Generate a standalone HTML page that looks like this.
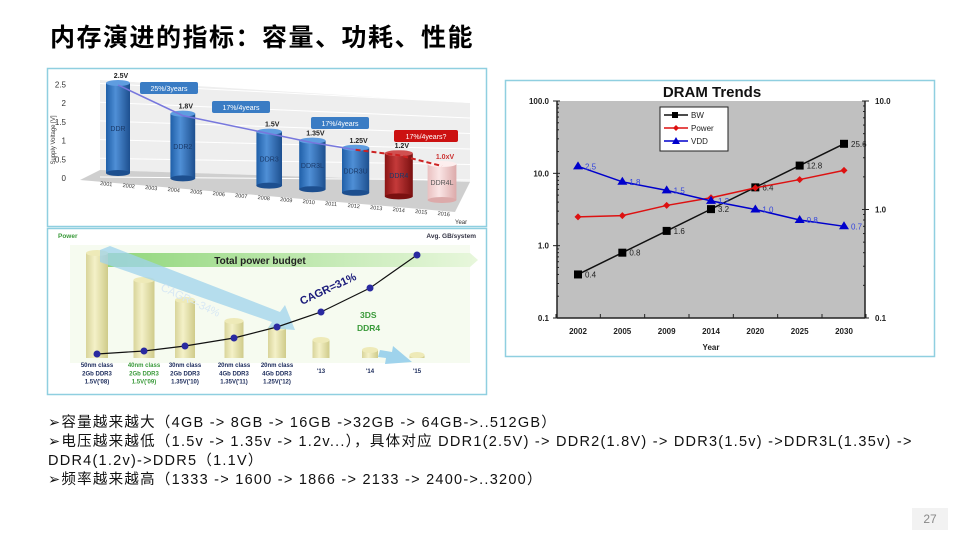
<!DOCTYPE html>
<html><head><meta charset="utf-8">
<style>
body{margin:0;width:960px;height:540px;background:#fff;position:relative;overflow:hidden;font-family:"Liberation Sans","Noto Sans CJK SC",sans-serif;}
.abs{position:absolute;}
#title{left:50px;top:18px;font-size:25px;letter-spacing:1.5px;font-weight:bold;color:#000;white-space:nowrap;font-family:"Liberation Sans","Noto Sans CJK SC",sans-serif;}
#notes{left:48px;top:414px;font-size:14.5px;letter-spacing:1.25px;line-height:19px;color:#111;white-space:nowrap;}
#pnum{left:912px;top:508px;width:36px;height:22px;background:#f2f2f2;color:#888;font-size:12px;text-align:center;line-height:22px;}
</style></head><body>
<div id="title" class="abs">内存演进的指标：容量、功耗、性能</div>

<svg class="abs" style="left:0;top:0" width="960" height="540">
 <defs>
  <linearGradient id="gBlue" x1="0" x2="1"><stop offset="0" stop-color="#1f5fa8"/><stop offset="0.4" stop-color="#4f8fd6"/><stop offset="1" stop-color="#1d4f8f"/></linearGradient>
  <linearGradient id="gRed" x1="0" x2="1"><stop offset="0" stop-color="#8a1414"/><stop offset="0.4" stop-color="#c43a3a"/><stop offset="1" stop-color="#7a1010"/></linearGradient>
  <linearGradient id="gPink" x1="0" x2="1"><stop offset="0" stop-color="#e9c0c0"/><stop offset="0.4" stop-color="#fae5e5"/><stop offset="1" stop-color="#dcaaaa"/></linearGradient>
  <linearGradient id="gBeige" x1="0" x2="1"><stop offset="0" stop-color="#d8d49a"/><stop offset="0.4" stop-color="#f4f1c8"/><stop offset="1" stop-color="#cfcb8a"/></linearGradient>
  <linearGradient id="gGreen" x1="0" x2="1"><stop offset="0" stop-color="#8fd67a"/><stop offset="1" stop-color="#e8f7dc"/></linearGradient>
 </defs>
 <rect x="47.5" y="68.5" width="439" height="158" fill="#fff" stroke="#8fcfe0" stroke-width="1.5"/>
 <polygon points="100,80 470,103 470,182 100,170" fill="#eeeeee"/>
 <polygon points="100,170 470,182 455,212 80,180" fill="#cfcfcf"/>
 <g id="voltG"></g>
 <rect x="47.5" y="228.5" width="439" height="166" fill="#fff" stroke="#8fcfe0" stroke-width="1.5"/>
 <rect x="70" y="245" width="400" height="118" fill="#f6fbf0"/>
 <polygon points="99,253 470,253 478,260 470,267 99,267" fill="url(#gGreen)"/>
 <text x="260" y="264" font-size="10" font-weight="bold" fill="#222" text-anchor="middle">Total power budget</text>
 <g id="powG"></g>
 <rect x="505.5" y="80.5" width="429" height="276" fill="#fff" stroke="#8fcfe0" stroke-width="1.5"/>
 <g id="dramG"></g>
</svg>

<div id="notes" class="abs">➢容量越来越大（4GB -&gt; 8GB -&gt; 16GB -&gt;32GB -&gt; 64GB-&gt;..512GB）<br>➢电压越来越低（1.5v -&gt; 1.35v -&gt; 1.2v...），具体对应 DDR1(2.5V) -&gt;  DDR2(1.8V) -&gt; DDR3(1.5v) -&gt;DDR3L(1.35v) -&gt;<br>DDR4(1.2v)-&gt;DDR5（1.1V）<br>➢频率越来越高（1333  -&gt; 1600 -&gt; 1866 -&gt; 2133 -&gt; 2400-&gt;..3200）</div>
<div id="pnum" class="abs">27</div>

<script>
const NS="http://www.w3.org/2000/svg";
function mk(p,tag,a,txt){const e=document.createElementNS(NS,tag);for(const k in a)e.setAttribute(k,a[k]);if(txt!==undefined)e.textContent=txt;p.appendChild(e);return e;}

/* DRAM trends */
const years=["2002","2005","2009","2014","2020","2025","2030"];
const bw=[0.4,0.8,1.6,3.2,6.4,12.8,25.6];
const power=[2.5,2.6,3.6,4.6,6.3,8.2,11];
const vdd=[2.5,1.8,1.5,1.2,1.0,0.8,0.7];
const leftTicks=["0.1","1.0","10.0","100.0"];
const rightTicks=["0.1","1.0","10.0"];
const PL=557,PR=865,PT=101,PB=318;
function xs(i){return 578+i*(844-578)/(years.length-1);}
function yl(v){return PB-(Math.log10(v)+1)/3*(PB-PT);}
function yr(v){return PB-(Math.log10(v)+1)/2*(PB-PT);}
const g=document.getElementById('dramG');
mk(g,'text',{x:712,y:97,'font-size':15,'font-weight':'bold','text-anchor':'middle',fill:'#111'},'DRAM Trends');
const pa=mk(g,'rect',{x:PL,y:PT,width:PR-PL,height:PB-PT,fill:'#c0c0c0'});

mk(g,'line',{x1:PL,y1:PT,x2:PL,y2:PB,stroke:'#222','stroke-width':1.5});
mk(g,'line',{x1:PR,y1:PT,x2:PR,y2:PB,stroke:'#222','stroke-width':1.5});
mk(g,'line',{x1:PL,y1:PB,x2:PR,y2:PB,stroke:'#222','stroke-width':1.5});
leftTicks.forEach(t=>{const y=yl(+t);mk(g,'line',{x1:PL-4,y1:y,x2:PL+3,y2:y,stroke:'#222'});
 const e=mk(g,'text',{x:PL-8,y:y+3,'font-size':8,'font-weight':'bold','text-anchor':'end',fill:'#222'},t);
 });
rightTicks.forEach(t=>{const y=yr(+t);mk(g,'line',{x1:PR-3,y1:y,x2:PR+4,y2:y,stroke:'#222'});
 const e=mk(g,'text',{x:PR+10,y:y+3,'font-size':8,'font-weight':'bold',fill:'#222'},t);
 });
for(let d=0;d<3;d++)for(let m=2;m<10;m++){const y=yl(Math.pow(10,d-1)*m);mk(g,'line',{x1:PL,y1:y,x2:PL+2,y2:y,stroke:'#222'});}
for(let d=0;d<2;d++)for(let m=2;m<10;m++){const y=yr(Math.pow(10,d-1)*m);mk(g,'line',{x1:PR-2,y1:y,x2:PR,y2:y,stroke:'#222'});}
years.forEach((t,i)=>{const x=xs(i);mk(g,'line',{x1:x-22,y1:PB,x2:x-22,y2:PB-4,stroke:'#222'});
 const e=mk(g,'text',{x:x,y:PB+16,'font-size':8,'font-weight':'bold','text-anchor':'middle',fill:'#222'},t);
 });
mk(g,'line',{x1:xs(6)+22,y1:PB,x2:xs(6)+22,y2:PB-4,stroke:'#222'});
const xt=mk(g,'text',{x:711,y:350,'font-size':8,'font-weight':'bold','text-anchor':'middle',fill:'#222'},'Year');

function series(vals,yf,col,shape,name,labels){
 const pts=vals.map((v,i)=>xs(i)+','+yf(v)).join(' ');
 const l=mk(g,'polyline',{points:pts,fill:'none',stroke:col,'stroke-width':1.5});
 
 vals.forEach((v,i)=>{const x=xs(i),y=yf(v);let m;
  if(shape==='sq')m=mk(g,'rect',{x:x-4,y:y-4,width:8,height:8,fill:'#000'});
  else if(shape==='dia')m=mk(g,'polygon',{points:`${x},${y-3.5} ${x+3.5},${y} ${x},${y+3.5} ${x-3.5},${y}`,fill:col});
  else m=mk(g,'polygon',{points:`${x},${y-5} ${x+5},${y+3} ${x-5},${y+3}`,fill:col});
  
  if(labels){const t=mk(g,'text',{x:x+7,y:y+3,'font-size':8,fill:col==='#0000cc'?'#3344dd':'#222'},v.toFixed(1));
   }
 });
}
series(bw,yl,'#111','sq','bw',true);
series(power,yl,'#dd1111','dia','power',false);
series(vdd,yr,'#0000cc','tri','vdd',true);
const lg=mk(g,'g',{});
mk(lg,'rect',{x:660,y:107,width:68,height:44,fill:'#fff',stroke:'#222'});
[['BW','#111','sq'],['Power','#dd1111','dia'],['VDD','#0000cc','tri']].forEach((r,i)=>{const y=115+i*13;
 mk(lg,'line',{x1:664,y1:y,x2:688,y2:y,stroke:r[1],'stroke-width':1.5});
 if(r[2]==='sq')mk(lg,'rect',{x:672,y:y-3,width:6,height:6,fill:'#000'});
 else if(r[2]==='dia')mk(lg,'polygon',{points:`676,${y-3} 679,${y} 676,${y+3} 673,${y}`,fill:r[1]});
 else mk(lg,'polygon',{points:`676,${y-4} 680,${y+3} 672,${y+3}`,fill:r[1]});
 mk(lg,'text',{x:691,y:y+3,'font-size':8,fill:'#222'},r[0]);});

/* voltage panel */
const vNames=["DDR","DDR2","DDR3","DDR3L","DDR3U","DDR4","DDR4L"];
const vVals=[2.5,1.8,1.5,1.35,1.25,1.2,1.0];
const vLabels=["2.5V","1.8V","1.5V","1.35V","1.25V","1.2V","1.0xV"];
const vYearIdx=[0,3,7,9,11,13,15];
const vYears=["2001","2002","2003","2004","2005","2006","2007","2008","2009","2010","2011","2012","2013","2014","2015","2016"];
const vg=document.getElementById('voltG');
["0","0.5","1","1.5","2","2.5"].forEach((t,i)=>{mk(vg,'text',{x:66,y:181-i*18.7,'font-size':8,'text-anchor':'end',fill:'#333'},t);
 mk(vg,'line',{x1:100,y1:177-i*18.7,x2:470,y2:180-i*15.5,stroke:'#fff'});});
mk(vg,'text',{x:55,y:140,'font-size':6,fill:'#333',transform:'rotate(-90 55 140)','text-anchor':'middle'},'Supply Voltage [V]');
vYears.forEach((t,i)=>mk(vg,'text',{x:100+i*22.5,y:185+i*2,'font-size':5.5,fill:'#333',transform:`rotate(6 ${100+i*22.5} ${185+i*2})`},t));
mk(vg,'text',{x:455,y:224,'font-size':6,fill:'#333'},'Year');
const curve=[];
vVals.forEach((v,i)=>{const cx=118+vYearIdx[i]*21.6;const base=173+vYearIdx[i]*1.8;const top=base-v*36;const w=24+i*0.8;
 const fill=i<5?'url(#gBlue)':(i===5?'url(#gRed)':'url(#gPink)');
 const c=mk(vg,'g',{});
 mk(c,'rect',{x:cx-w/2,y:top,width:w,height:base-top,fill:fill});
 mk(c,'ellipse',{cx:cx,cy:base,rx:w/2,ry:3,fill:i<5?'#1d4f8f':(i===5?'#7a1010':'#dcaaaa')});
 mk(c,'ellipse',{cx:cx,cy:top,rx:w/2,ry:3,fill:i<5?'#5f9de0':(i===5?'#d05050':'#fdeeee')});
 mk(vg,'text',{x:cx,y:(top+base)/2+3,'font-size':7,'text-anchor':'middle',fill:i===6?'#555':'#1a3a6a'},vNames[i]);
 mk(vg,'text',{x:cx+3,y:top-5,'font-size':7,'font-weight':'bold','text-anchor':'middle',fill:i===6?'#c33':'#222'},vLabels[i]);
 curve.push([cx,top+2]);});
mk(vg,'polyline',{points:curve.slice(0,5).map(p=>p.join(',')).join(' '),fill:'none',stroke:'#7777dd','stroke-width':1.5});
mk(vg,'polyline',{points:curve.slice(4).map(p=>p.join(',')).join(' '),fill:'none',stroke:'#c22','stroke-width':2,'stroke-dasharray':'5,3'});
[[140,82,'25%/3years','#3a7cc4'],[212,101,'17%/4years','#3a7cc4'],[311,117,'17%/4years','#3a7cc4'],[394,130,'17%/4years?','#c11']].forEach(b=>{
 mk(vg,'rect',{x:b[0],y:b[1],width:b[3]==='#c11'?64:58,height:12,fill:b[3],rx:2});
 mk(vg,'text',{x:b[0]+(b[3]==='#c11'?32:29),y:b[1]+9,'font-size':7,'text-anchor':'middle',fill:'#fff'},b[2]);});

/* power panel */
const pGB=[354,351,346,338,327,312,288,255];
const pX=[97,144,185,234,277,321,370,417];
const pH=[105,78,58,37,30,18,8,3];
const pCats=[["50nm class","2Gb DDR3","1.5V('08)"],["40nm class","2Gb DDR3","1.5V('09)"],["30nm class","2Gb DDR3","1.35V('10)"],["20nm class","4Gb DDR3","1.35V('11)"],["20nm class","4Gb DDR3","1.25V('12)"],["'13"],["'14"],["'15"]];
const pg=document.getElementById('powG');
mk(pg,'text',{x:58,y:238,'font-size':6.5,'font-weight':'bold',fill:'#3a9a3a'},'Power');
mk(pg,'text',{x:476,y:238,'font-size':6.5,'font-weight':'bold',fill:'#334','text-anchor':'end'},'Avg. GB/system');
pX.forEach((x,i)=>{const w=22-i;const base=358;const top=base-pH[i];const c=mk(pg,'g',{});
 
 mk(c,'rect',{x:x-w/2,y:top,width:w,height:base-top,fill:'url(#gBeige)'});
 mk(c,'ellipse',{cx:x,cy:top,rx:w/2,ry:3,fill:'#eeeab8'});});
mk(pg,'polygon',{points:'100,250 110,246 280,312 285,305 295,330 268,328 272,322 100,262',fill:'#9fd3ec',opacity:0.75});
mk(pg,'text',{x:160,y:290,'font-size':11,fill:'#d8e8f4',transform:'rotate(25 160 290)'},'CAGR=-34%');
mk(pg,'polygon',{points:'380,350 392,352 393,346 412,362 385,364 386,358 378,357',fill:'#9fd3ec'});
mk(pg,'polyline',{points:pX.map((x,i)=>x+','+pGB[i]).join(' '),fill:'none',stroke:'#111','stroke-width':1.2});
pX.forEach((x,i)=>{const d=mk(pg,'circle',{cx:x,cy:pGB[i],r:3.5,fill:'#2a2aa0'});
 });
mk(pg,'text',{x:302,y:305,'font-size':11,'font-weight':'bold',fill:'#1a1a7a',transform:'rotate(-25 302 305)'},'CAGR=31%');
mk(pg,'text',{x:360,y:318,'font-size':8.5,'font-weight':'bold',fill:'#3a9a3a'},'3DS');
mk(pg,'text',{x:357,y:331,'font-size':8.5,'font-weight':'bold',fill:'#3a9a3a'},'DDR4');
pCats.forEach((c,i)=>c.forEach((s,j)=>mk(pg,'text',{x:pX[i],y:(c.length===1?373:367)+j*8.3,'font-size':6,'font-weight':'bold','text-anchor':'middle',fill:i===1?'#3a9a3a':'#1a2a5a'},s)));
</script>
</body></html>
